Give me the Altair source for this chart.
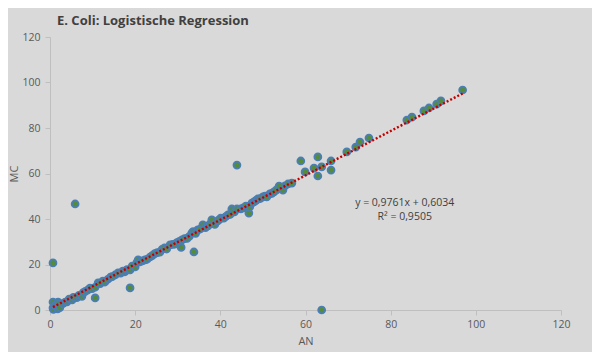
import altair as alt
import pandas as pd

AN = [0.7, 0.7, 0.8, 1.2, 1.5, 1.9, 1.8, 2.0, 2.3, 3.0, 3.6, 4.0, 4.5, 5.2, 5.5, 6.3, 6.8, 7.5, 7.8, 8.3,
      8.9, 9.4, 9.9, 10.6, 11.3, 11.8, 12.4, 12.9, 13.6, 14.2, 14.6, 15.3, 16.0, 16.6, 17.1, 17.6, 18.1, 18.8, 19.3, 20.0,
      20.4, 20.7, 21.2, 21.7, 22.3, 22.8, 23.5, 24.0, 24.6, 25.2, 25.8, 26.3, 26.9, 27.4, 28.2, 28.8, 29.3, 29.8, 30.4, 31.0,
      31.6, 32.2, 32.7, 33.3, 33.6, 34.2, 34.7, 35.3, 35.9, 36.5, 37.1, 37.6, 38.0, 38.7, 39.2, 39.6, 40.1, 40.8, 41.3, 41.8,
      42.3, 42.7, 43.3, 43.9, 44.8, 45.4, 46.0, 46.7, 46.9, 47.4, 47.9, 48.4, 48.8, 49.4, 50.0, 50.5, 50.9, 51.6, 52.1, 52.6,
      53.2, 53.8, 54.7, 55.2, 55.9, 56.8,
      59.9, 62.0, 63.8, 69.7, 71.8, 72.8, 74.9, 83.8, 85.0, 87.8, 89.0, 90.8, 91.8, 96.9,
      0.7, 5.9, 43.9, 63.8, 18.8, 10.6, 33.8, 30.8, 58.9, 62.9, 66.0, 66.0, 62.9]
MC = [3.5, 0.9, 0.3, 2.0, 1.2, 3.5, 0.5, 2.6, 1.0, 2.8, 3.5, 3.6, 4.8, 4.4, 5.6, 5.4, 6.4, 6.0, 7.6, 8.2,
      8.8, 9.6, 9.4, 10.0, 11.9, 11.6, 12.7, 12.3, 13.5, 14.4, 14.7, 15.4, 16.3, 16.2, 17.1, 16.8, 17.8, 17.6, 19.3, 18.9,
      20.8, 22.0, 21.2, 21.6, 22.0, 22.3, 23.3, 23.9, 24.8, 25.2, 25.4, 26.6, 27.3, 26.8, 28.6, 28.8, 28.9, 29.6, 30.2, 30.8,
      31.4, 31.5, 32.3, 33.8, 34.5, 33.7, 35.2, 35.6, 37.4, 36.2, 37.0, 37.8, 39.6, 37.6, 38.9, 39.5, 40.4, 40.4, 41.1, 41.8,
      42.0, 44.4, 43.1, 44.4, 44.4, 44.9, 45.7, 42.6, 45.3, 47.0, 47.5, 48.2, 48.8, 49.0, 49.7, 50.1, 49.7, 51.0, 51.3, 51.9,
      52.8, 54.5, 52.7, 54.6, 55.4, 55.8,
      60.7, 62.4, 62.9, 69.5, 71.6, 73.8, 75.6, 83.5, 84.8, 87.5, 88.8, 90.5, 91.9, 96.7,
      20.7, 46.6, 63.7, 0.0, 9.7, 5.3, 25.5, 27.5, 65.5, 67.3, 65.5, 61.5, 58.9]

SLOPE = 0.9761
INTERCEPT = 0.6034
TREND_X = [0.7, 96.9]
EQ_LINES = ["y = 0,9761x + 0,6034", "R² = 0,9505"]
EQ_X = [83.3, 83.3]
EQ_Y = [47.0, 40.9]

pts = pd.DataFrame({"AN": AN, "MC": MC})
trend = pd.DataFrame({"AN": TREND_X, "MC": [SLOPE * v + INTERCEPT for v in TREND_X]})
eq = pd.DataFrame({"t": EQ_LINES, "x": EQ_X, "y": EQ_Y})

FONT = "Open Sans"
xs = alt.Scale(domain=[0, 120], nice=False)
ys = alt.Scale(domain=[0, 120], nice=False)
xax = alt.Axis(values=[0, 20, 40, 60, 80, 100, 120], grid=False, title="AN", labelFlush=False)
yax = alt.Axis(values=[0, 20, 40, 60, 80, 100, 120], grid=False, title="MC", labelFlush=False)

points = alt.Chart(pts).mark_point(
    filled=True, fill="#548c3c", stroke="#4a7eb5", strokeWidth=1.8, size=48, opacity=1
).encode(
    x=alt.X("AN:Q", scale=xs, axis=xax),
    y=alt.Y("MC:Q", scale=ys, axis=yax),
)

line = alt.Chart(trend).mark_line(
    color="#c00000", strokeWidth=2.4, strokeDash=[2, 2]
).encode(x=alt.X("AN:Q", scale=xs), y=alt.Y("MC:Q", scale=ys))

text = alt.Chart(eq).mark_text(
    font=FONT, fontSize=10.5, color="#404040", align="center", baseline="middle"
).encode(x=alt.X("x:Q", scale=xs), y=alt.Y("y:Q", scale=ys), text="t:N")

chart = alt.layer(points, line, text).properties(
    width=511, height=273,
    autosize=alt.AutoSizeParams(type="none"),
    padding={"left": 42, "top": 29, "right": 31, "bottom": 42},
    background="#d9d9d9",
    title=alt.TitleParams(
        "E. Coli: Logistische Regression", anchor="start", frame="group",
        font=FONT, fontSize=13, fontWeight="bold", color="#404040", dx=7, offset=4
    ),
).configure_view(stroke=None).configure_axis(
    domainColor="#bfbfbf", tickColor="#bfbfbf", tickSize=5,
    labelFont=FONT, labelFontSize=10.5, labelColor="#595959",
    titleFont=FONT, titleFontSize=11, titleColor="#595959", titleFontWeight="normal",
).configure_axisX(labelPadding=4, titlePadding=6).configure_axisY(labelPadding=5, titlePadding=2)

chart.save("out.html", embed_options={"renderer": "svg", "actions": False})
